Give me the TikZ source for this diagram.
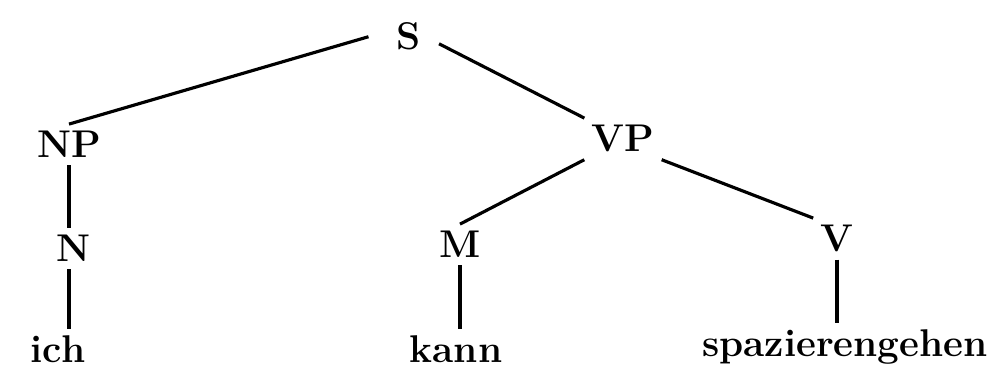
\documentclass[tikz,border=0pt]{standalone}
\usepackage{tikz}

\begin{document}
\begin{tikzpicture}[
  x=0.02cm, y=-0.02cm,
  cat/.style={font=\fontsize{22}{26}\selectfont\bfseries, anchor=base, inner sep=4pt},
  word/.style={cat},
  branch/.style={line width=1.8pt}
]
\useasboundingbox (0,0) rectangle (987,374);
% categories
\node[cat] (s) at (409,50) {S};
\node[cat] (np) at (69,158) {NP};
\node[cat] (vp) at (623,152) {VP};
\node[cat] (n) at (74,262) {N};
\node[cat] (m) at (460,258) {M};
\node[cat] (v) at (837,252) {V};
% words
\node[word] (ich) at (58,363) {ich};
\node[word] (kann) at (456,363) {kann};
\node[word] (spaz) at (845,357) {spazierengehen};
% branches
\draw[branch] ([xshift=-12pt]s.west) -- (np.north);
\draw[branch] ([xshift=6pt,yshift=-4pt]s.east) -- (vp.north west);
\draw[branch] (vp.south west) -- (m.north);
\draw[branch] (vp.south east) -- (v.north west);
\draw[branch] (np.south) -- (np.south |- n.north);
\draw[branch] (n.south -| np.south) -- (np.south |- ich.north);
\draw[branch] (m.south) -- (m.south |- kann.north);
\draw[branch] (v.south) -- (v.south |- spaz.north);
\end{tikzpicture}
\end{document}
